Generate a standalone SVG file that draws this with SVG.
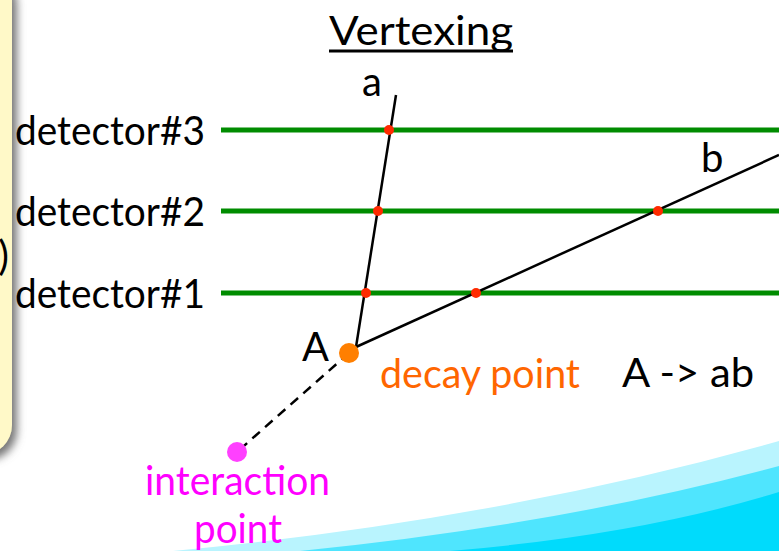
<svg xmlns="http://www.w3.org/2000/svg" width="779" height="551" viewBox="0 0 779 551">
<defs>
<style>
.t{font-family:Lato,"Open Sans","Liberation Sans",sans-serif;font-size:40px;fill:#000}
.det{stroke:#008C00;stroke-width:5}
.trk{stroke:#000;stroke-width:2.5;fill:none}
.hit{fill:#FF2A00}
</style>
<filter id="sh" x="-50%" y="-50%" width="200%" height="200%">
<feGaussianBlur in="SourceAlpha" stdDeviation="4"/>
<feOffset dx="5" dy="5" result="b"/>
<feFlood flood-color="#777"/>
<feComposite in2="b" operator="in"/>
<feMerge><feMergeNode/><feMergeNode in="SourceGraphic"/></feMerge>
</filter>
</defs>
<rect width="779" height="551" fill="#fff"/>
<g id="wave">
<path d="M173,551 Q500,520 779,441 L779,551 Z" fill="#B9F4FE"/>
<path d="M300,551 Q560,525 779,466 L779,551 Z" fill="#4FE5FE"/>
<path d="M450,551 Q640,535 779,492 L779,551 Z" fill="#00DBFC"/>
</g>
<g id="side-box">
<rect x="-100" y="-30" width="112" height="485" rx="30" fill="#FFF9C8" filter="url(#sh)"/>
<text class="t" x="9" y="270" text-anchor="end">)</text>
</g>
<g id="title">
<text class="t" x="329" y="45" font-size="43" textLength="184" lengthAdjust="spacingAndGlyphs">Vertexing</text>
<rect x="329" y="49.5" width="184" height="3" fill="#000"/>
</g>
<g id="detector3">
<line class="det" x1="221" y1="130" x2="779" y2="130"/>
<text class="t" x="15" y="145" textLength="190" lengthAdjust="spacingAndGlyphs">detector#3</text>
</g>
<g id="detector2">
<line class="det" x1="221" y1="211" x2="779" y2="211"/>
<text class="t" x="15" y="226" textLength="190" lengthAdjust="spacingAndGlyphs">detector#2</text>
</g>
<g id="detector1">
<line class="det" x1="221" y1="293" x2="779" y2="293"/>
<text class="t" x="15" y="308" textLength="190" lengthAdjust="spacingAndGlyphs">detector#1</text>
</g>
<g id="connectors">
<line class="trk" x1="396" y1="95" x2="356" y2="347"/>
<line class="trk" x1="356" y1="347" x2="779" y2="155"/>
<line class="trk" x1="349" y1="353" x2="237" y2="452" stroke-dasharray="10,7"/>
</g>
<g id="hits">
<circle class="hit" cx="389" cy="130" r="5"/>
<circle class="hit" cx="378" cy="211" r="5"/>
<circle class="hit" cx="366" cy="293" r="5"/>
<circle class="hit" cx="476" cy="293" r="5"/>
<circle class="hit" cx="658" cy="211" r="5"/>
</g>
<g id="track-a">
<text class="t" x="362" y="96">a</text>
</g>
<g id="track-b">
<text class="t" x="701" y="172">b</text>
</g>
<g id="decay-point">
<circle cx="349" cy="353" r="10" fill="#FF7F00"/>
<text class="t" x="302" y="361" textLength="27" lengthAdjust="spacingAndGlyphs">A</text>
<text class="t" x="380" y="388" fill="#FF6600" style="fill:#FF6600" textLength="200" lengthAdjust="spacingAndGlyphs">decay point</text>
</g>
<g id="reaction">
<text class="t" x="622" y="387" textLength="132" lengthAdjust="spacingAndGlyphs">A -&gt; ab</text>
</g>
<g id="interaction-point">
<circle cx="237" cy="452" r="10" fill="#FF40FF"/>
<text class="t" x="145" y="495" style="fill:#FF00FF" textLength="185" lengthAdjust="spacingAndGlyphs">interaction</text>
<text class="t" x="194" y="543" style="fill:#FF00FF" textLength="88" lengthAdjust="spacingAndGlyphs">point</text>
</g>
</svg>
